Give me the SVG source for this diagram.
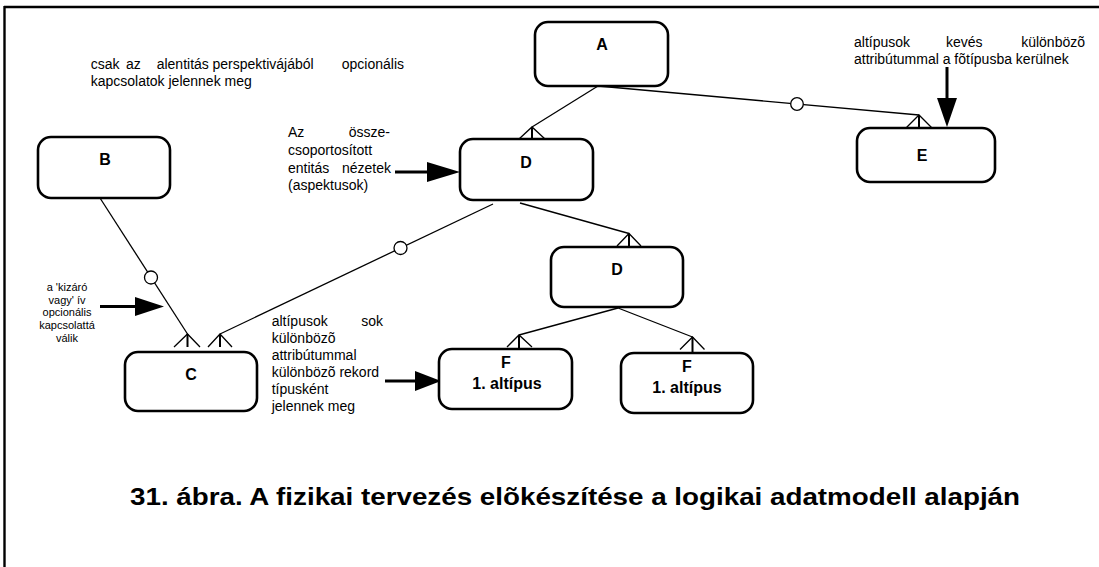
<svg xmlns="http://www.w3.org/2000/svg" width="1099" height="567" viewBox="0 0 1099 567">
<style>
.box{fill:#fff;stroke:#000;stroke-width:2.6}
.lbl{font-family:"Liberation Sans",Arial,sans-serif;font-weight:bold;font-size:16px;text-anchor:middle;fill:#000}
.ann{font-family:"Liberation Sans",Arial,sans-serif;font-size:14px;fill:#000}
.sm{font-family:"Liberation Sans",Arial,sans-serif;font-size:11px;fill:#000;text-anchor:middle}
.end{text-anchor:end}
.ln{stroke:#000;stroke-width:1.3;fill:none}
.stem{stroke:#000;stroke-width:2;fill:none}
.opt{fill:#fff;stroke:#000;stroke-width:1.3}
.arr{stroke:#000;stroke-width:3;fill:none}
.head{fill:#000}
.cap{font-family:"Liberation Sans",Arial,sans-serif;font-weight:bold;font-size:24px;fill:#000}
</style>
<g id="frame">
<line x1="4" y1="7" x2="1099" y2="7" stroke="#000" stroke-width="2.4"/>
<line x1="4.5" y1="6" x2="4.5" y2="567" stroke="#000" stroke-width="2.4"/>
</g>
<g id="connectors">
<line class="ln" x1="598" y1="86" x2="532" y2="127"/>
<polyline class="ln" points="519,139 532,127 545,139"/>
<line class="stem" x1="532" y1="127" x2="532" y2="139"/>
<line class="ln" x1="598" y1="86" x2="919" y2="115"/>
<polyline class="ln" points="906,128 919,115 932,128"/>
<line class="stem" x1="919" y1="115" x2="919" y2="128"/>
<circle class="opt" cx="797" cy="104" r="6.3"/>
<line class="ln" x1="100" y1="198" x2="187.5" y2="334"/>
<polyline class="ln" points="174,347 187.5,334 200,347"/>
<line class="stem" x1="187.5" y1="334" x2="187.5" y2="347"/>
<circle class="opt" cx="151" cy="277.5" r="6.5"/>
<line class="ln" x1="493" y1="204" x2="220" y2="334"/>
<polyline class="ln" points="208,347 220,334 232,347"/>
<line class="stem" x1="220" y1="334" x2="220" y2="347"/>
<circle class="opt" cx="400.5" cy="248" r="6.5"/>
<line class="ln" x1="520" y1="203" x2="629" y2="233.5"/>
<polyline class="ln" points="617,246 629,233.5 641,246"/>
<line class="stem" x1="629" y1="233.5" x2="629" y2="247"/>
<line class="ln" x1="618" y1="308" x2="519" y2="335"/>
<polyline class="ln" points="507,347 519,335 532,347"/>
<line class="stem" x1="519" y1="335" x2="519" y2="349"/>
<line class="ln" x1="618" y1="308" x2="692.5" y2="337"/>
<polyline class="ln" points="680,349.5 692.5,337 704.5,349.5"/>
<line class="stem" x1="692.5" y1="337" x2="692.5" y2="353"/>
<line class="arr" x1="947" y1="67" x2="947" y2="99"/>
<polygon class="head" points="937,98 957,98 947,127"/>
<line class="arr" x1="395" y1="172" x2="428" y2="172"/>
<polygon class="head" points="427,162 460,172 427,182"/>
<line class="arr" x1="100" y1="306.5" x2="136" y2="306.5"/>
<polygon class="head" points="135,297 164,306.5 135,316"/>
<line class="arr" x1="385" y1="381" x2="416" y2="381"/>
<polygon class="head" points="415,371 441,381 415,391"/>
</g>
<g id="nodeA"><rect class="box" x="535" y="22" width="133" height="64" rx="13"/><text class="lbl" x="602" y="50">A</text></g>
<g id="nodeD1"><rect class="box" x="460" y="139" width="133" height="61" rx="13"/><text class="lbl" x="526" y="168">D</text></g>
<g id="nodeE"><rect class="box" x="857" y="128" width="138" height="54" rx="13"/><text class="lbl" x="922" y="161">E</text></g>
<g id="nodeB"><rect class="box" x="38" y="137" width="132" height="61" rx="13"/><text class="lbl" x="105" y="165">B</text></g>
<g id="nodeC"><rect class="box" x="125" y="352" width="132" height="59" rx="13"/><text class="lbl" x="191" y="380">C</text></g>
<g id="nodeD2"><rect class="box" x="551" y="247" width="132" height="60" rx="13"/><text class="lbl" x="617" y="275">D</text></g>
<g id="nodeF1"><rect class="box" x="439" y="349" width="133" height="60" rx="13"/><text class="lbl" x="506" y="368">F</text><text class="lbl" x="507" y="389">1. altípus</text></g>
<g id="nodeF2"><rect class="box" x="621" y="353" width="132" height="60" rx="13"/><text class="lbl" x="687" y="372">F</text><text class="lbl" x="687" y="393">1. altípus</text></g>
<g id="note-top-left" class="ann">
<text x="90.7" y="69">csak</text>
<text x="126" y="69">az</text>
<text x="156.7" y="69">alentitás</text>
<text x="212.5" y="69">perspektivájából</text>
<text class="end" x="404" y="69">opcionális</text>
<text x="90.7" y="86">kapcsolatok jelennek meg</text>
</g>
<g id="note-top-right" class="ann">
<text x="854" y="47">altípusok</text>
<text x="946" y="47">kevés</text>
<text class="end" x="1085" y="47">különbözõ</text>
<text x="854" y="64">attribútummal a fõtípusba kerülnek</text>
</g>
<g id="note-aspects" class="ann">
<text x="288" y="137">Az</text>
<text class="end" x="390" y="137">össze-</text>
<text x="288" y="155">csoportosított</text>
<text x="288" y="173">entitás</text>
<text class="end" x="391" y="173">nézetek</text>
<text x="288" y="190">(aspektusok)</text>
</g>
<g id="note-xor" class="sm">
<text x="67" y="291">a 'kizáró</text>
<text x="67" y="304">vagy' ív</text>
<text x="67" y="316">opcionális</text>
<text x="67" y="329">kapcsolattá</text>
<text x="67" y="342">válik</text>
</g>
<g id="note-subtypes" class="ann">
<text x="271.7" y="326">altípusok</text>
<text class="end" x="383" y="326">sok</text>
<text x="271.7" y="343">különbözõ</text>
<text x="271.7" y="360">attribútummal</text>
<text x="271.7" y="377">különbözõ rekord</text>
<text x="271.7" y="394">típusként</text>
<text x="271.7" y="411">jelennek meg</text>
</g>
<g id="caption">
<text class="cap" x="130" y="505" textLength="890" lengthAdjust="spacingAndGlyphs">31. ábra. A fizikai tervezés elõkészítése a logikai adatmodell alapján</text>
</g>
</svg>
